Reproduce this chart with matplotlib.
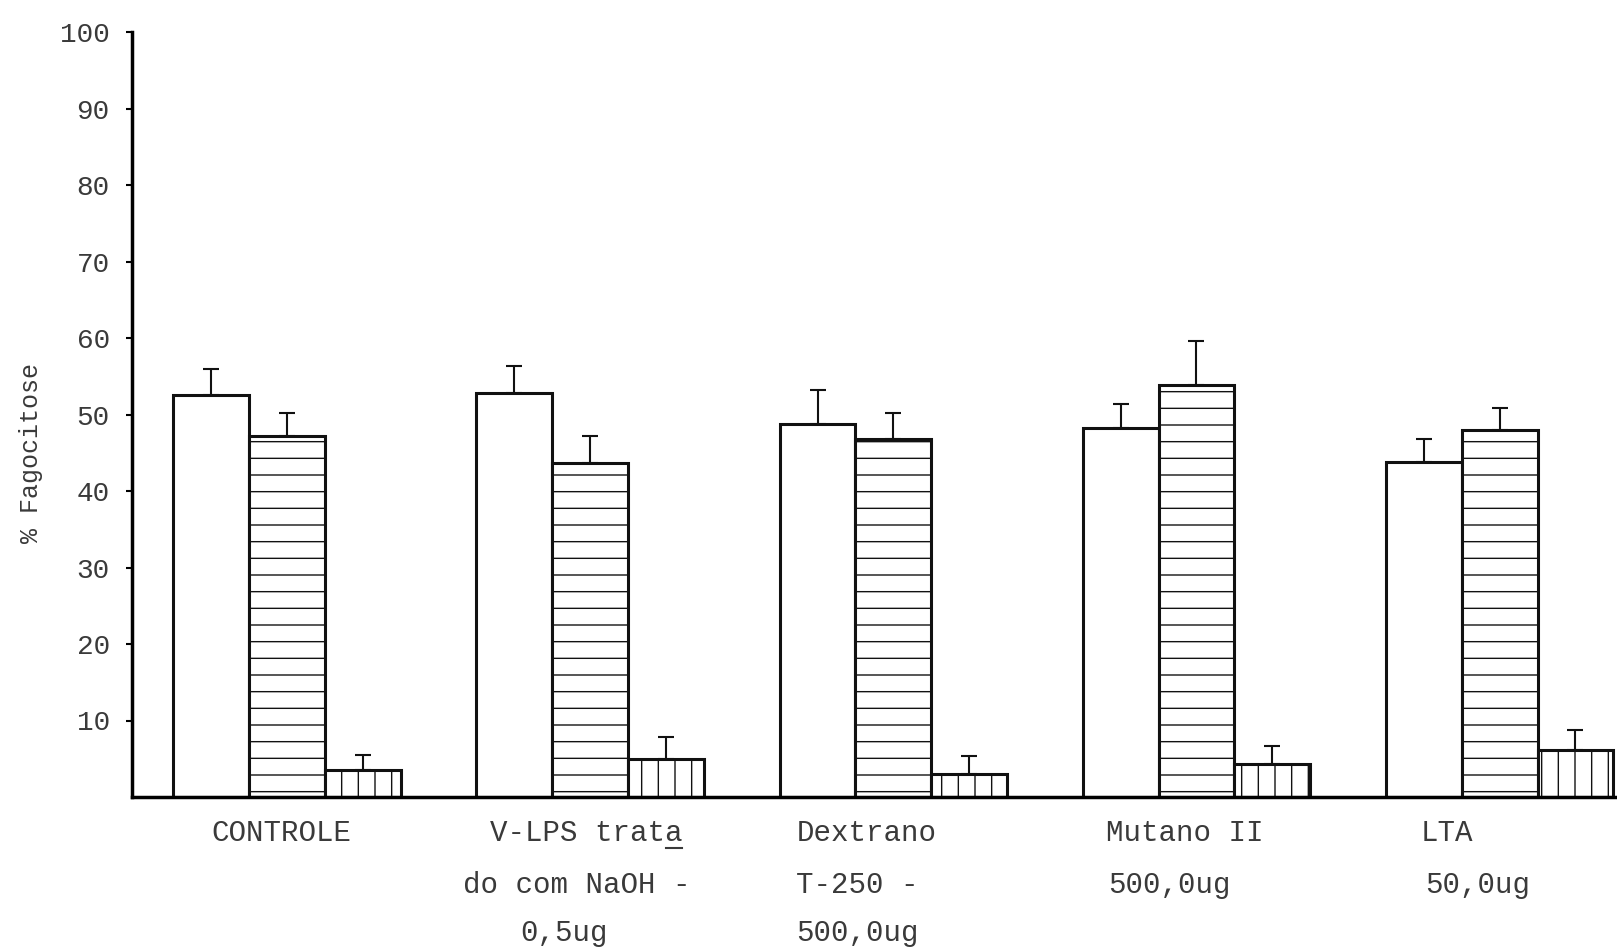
import matplotlib
matplotlib.use("Agg")
import matplotlib.pyplot as plt
from matplotlib.lines import Line2D
import numpy as np

plt.rcParams['hatch.linewidth'] = 1.0
plt.rcParams['font.family'] = ['Liberation Mono', 'DejaVu Sans Mono']

# ---- data ----
categories = ["CONTROLE", "V-LPS trata", "Dextrano", "Mutano II", "LTA"]
label_lines = [
    ["CONTROLE"],
    ["V-LPS trata", "do com NaOH -", "0,5ug"],
    ["Dextrano", "T-250 -", "500,0ug"],
    ["Mutano II", "500,0ug"],
    ["LTA", "50,0ug"],
]
white_vals = [52.5, 52.8, 48.8, 48.2, 43.8]
white_err = [3.4, 3.6, 4.4, 3.2, 3.0]
horiz_vals = [47.2, 43.6, 46.8, 53.8, 48.0]
horiz_err = [3.0, 3.6, 3.4, 5.8, 2.8]
vert_vals = [3.5, 5.0, 3.0, 4.3, 6.2]
vert_err = [2.0, 2.8, 2.4, 2.4, 2.6]
yticks = [10, 20, 30, 40, 50, 60, 70, 80, 90, 100]

# ---- figure ----
fig = plt.figure(figsize=(16.17, 9.5), dpi=100)
ax = fig.add_axes([132/1617, 1-797/950, 1-132/1617, (797-32)/950])

x = np.arange(len(categories))
w = 0.25
ink = '#111111'
txt = '#3a3a3a'
series = [
    (x - w, white_vals, white_err, ''),
    (x, horiz_vals, horiz_err, '-'),
    (x + w, vert_vals, vert_err, '|'),
]
for xs, vals, errs, hatch in series:
    ax.bar(xs, vals, width=w, facecolor='white', edgecolor=ink,
           linewidth=2.2, hatch=hatch, zorder=2)
    ax.errorbar(xs, vals, yerr=[np.zeros(len(vals)), errs], fmt='none',
                ecolor=ink, elinewidth=1.5, capsize=6, capthick=1.5, zorder=3)

ax.set_xlim(-0.511, 4.387)
ax.set_ylim(0, 100)
ax.set_yticks(yticks)
ax.set_yticklabels([str(t) for t in yticks], fontsize=20, color=txt)
ax.tick_params(axis='y', direction='out', length=4, width=1.5, pad=12)
ax.set_xticks([])
for s in ['top', 'right']:
    ax.spines[s].set_visible(False)
ax.spines['left'].set_linewidth(2.5)
ax.spines['bottom'].set_linewidth(2.5)

fig.text(0.019, 0.523, "% Fagocitose", rotation=90, ha='center', va='center',
         fontsize=18, color=txt)

# category labels (multi-line, typewriter style)
offsets = [-0.25, -0.33, -0.32, -0.30, -0.26]
line_offsets = [
    [0.0],
    [0.0, -0.09, 0.10],
    [0.0, 0.0, 0.0],
    [0.0, 0.01],
    [0.0, 0.015],
]
line_y = [833/950, 885/950, 933/950]
underline_text = None
for i, lines in enumerate(label_lines):
    for j, line in enumerate(lines):
        xd = x[i] + offsets[i] + line_offsets[i][j]
        xf = fig.transFigure.inverted().transform(ax.transData.transform((xd, 0)))[0]
        t = fig.text(xf, 1 - line_y[j], line, ha='left', va='center',
                     fontsize=21, color=txt)
        if i == 1 and j == 0:
            underline_text = t

# typewriter underline under the last letter of "trata"
fig.canvas.draw()
bb = underline_text.get_window_extent()
cw = bb.width / len(underline_text.get_text())
inv = fig.transFigure.inverted()
(x0, y0) = inv.transform((bb.x1 - cw + 1, bb.y0 - 1))
(x1, _) = inv.transform((bb.x1 - 1, bb.y0 - 1))
fig.add_artist(Line2D([x0, x1], [y0, y0], transform=fig.transFigure,
                      color=txt, linewidth=1.5))

fig.savefig("out.png", dpi=100)
